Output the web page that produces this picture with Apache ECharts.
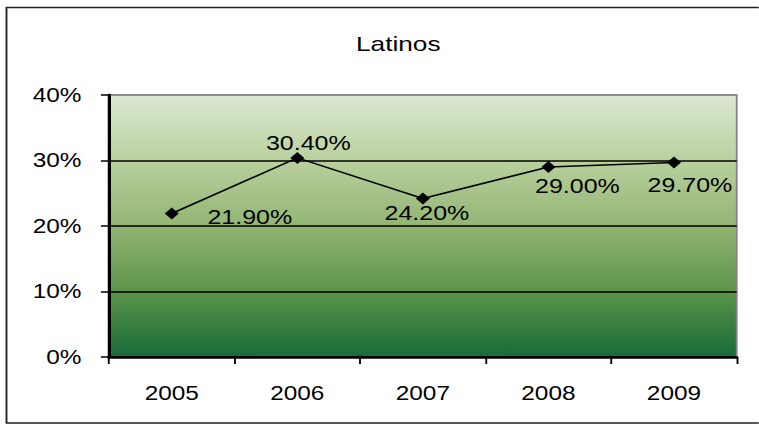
<!DOCTYPE html>
<html>
<head>
<meta charset="utf-8">
<script src="https://cdn.jsdelivr.net/npm/echarts@6/dist/echarts.min.js"></script>
<style>
html,body{margin:0;padding:0;background:#fff;overflow:hidden;}
#wrap{width:759px;height:427px;overflow:hidden;}
/* the reference chart is horizontally stretched by ~1.25 */
#c{width:607.2px;height:427px;transform:scaleX(1.25);transform-origin:0 0;}
</style>
</head>
<body>
<div id="wrap"><div id="c"></div></div>
<script>
var title = 'Latinos';
var years = ['2005', '2006', '2007', '2008', '2009'];
var values = [21.9, 30.4, 24.2, 29.0, 29.7];
var yTicks = [0, 10, 20, 30, 40];
// label centre offsets from the point (style only)
var labelOffsets = [[62.4, 4], [8.8, -15], [3.2, 15], [23.2, 19], [12.8, 23]];

var chart = echarts.init(document.getElementById('c'), null, {renderer: 'svg'});
var font = '"Liberation Sans", Arial, sans-serif';
var seriesData = values.map(function (v, i) {
  return {value: v, label: {offset: labelOffsets[i]}};
});
chart.setOption({
  animation: false,
  backgroundColor: '#fff',
  title: {
    text: title,
    left: 313.6,
    top: 28,
    textAlign: 'center',
    textStyle: {fontFamily: font, fontSize: 21, fontWeight: 'normal', color: '#000'}
  },
  graphic: [{
    type: 'rect',
    shape: {x: 5.2, y: 7.5, width: 620, height: 415.5},
    style: {fill: 'none', stroke: '#222', lineWidth: 1.5},
    z: 100
  }],
  grid: {
    left: 87.2, right: 17.6, top: 95, bottom: 70,
    show: true,
    borderColor: '#888',
    borderWidth: 1.5,
    backgroundColor: new echarts.graphic.LinearGradient(0, 0, 0, 1, [
      {offset: 0, color: '#dce9d3'},
      {offset: 0.25, color: '#b9d09d'},
      {offset: 0.5, color: '#92b574'},
      {offset: 0.75, color: '#5b9449'},
      {offset: 1, color: '#186a39'}
    ])
  },
  xAxis: {
    type: 'category',
    data: years,
    boundaryGap: true,
    axisLine: {lineStyle: {color: '#000', width: 2.5}},
    axisTick: {show: true, length: 7, lineStyle: {color: '#000', width: 1.5}},
    axisLabel: {fontFamily: font, fontSize: 19.5, color: '#000', margin: 26},
    splitLine: {show: false},
    z: 5
  },
  yAxis: {
    type: 'value',
    min: yTicks[0],
    max: yTicks[yTicks.length - 1],
    interval: 10,
    axisLine: {show: true, lineStyle: {color: '#000', width: 2.6}},
    axisTick: {show: true, length: 6.5, lineStyle: {color: '#000', width: 1.5}},
    axisLabel: {fontFamily: font, fontSize: 19.5, color: '#000', margin: 22, formatter: '{value}%', align: 'right'},
    splitLine: {show: true, lineStyle: {color: ['#000', '#000', '#000', '#000', '#888'], width: 1.5}}
  },
  series: [{
    type: 'line',
    data: seriesData,
    symbol: 'diamond',
    symbolSize: [11.2, 12],
    itemStyle: {color: '#000'},
    lineStyle: {color: '#000', width: 1.6},
    label: {
      show: true,
      position: 'inside',
      fontFamily: font,
      fontSize: 20,
      color: '#000',
      formatter: function (p) { return p.value.toFixed(2) + '%'; }
    },
    z: 10
  }]
});
</script>
</body>
</html>
